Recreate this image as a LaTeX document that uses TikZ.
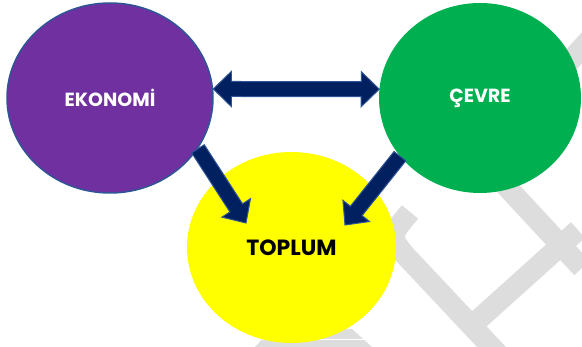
\documentclass[tikz,border=0pt]{standalone}
\usepackage{fontspec}
\newfontfamily\labelfont{Poppins}
\usetikzlibrary{shapes.geometric,calc}

\definecolor{ekopurple}{HTML}{7030A0}
\definecolor{cevgreen}{HTML}{00B050}
\definecolor{topyellow}{HTML}{FFFF00}
\definecolor{arrownavy}{HTML}{002060}
\definecolor{arrowrim}{HTML}{2F5597}
\definecolor{ghostgray}{HTML}{DDDDDD}

\tikzset{
  bubble/.style={ellipse, inner sep=0pt, font=\labelfont\bfseries},
  ghost/.style={draw=ghostgray, line width=21pt},
  fat/.style={draw=arrowrim, fill=arrownavy, line width=1pt, line join=miter},
  fatarrow/.style={fat, to path={
    ($(\tikztostart)!7.5pt!90:(\tikztotarget)$)
    -- ($($(\tikztotarget)!18pt!(\tikztostart)$)!7.5pt!90:(\tikztotarget)$)
    -- ($($(\tikztotarget)!18pt!(\tikztostart)$)!17pt!90:(\tikztotarget)$)
    -- (\tikztotarget)
    -- ($($(\tikztotarget)!18pt!(\tikztostart)$)!17pt!-90:(\tikztotarget)$)
    -- ($($(\tikztotarget)!18pt!(\tikztostart)$)!7.5pt!-90:(\tikztotarget)$)
    -- ($(\tikztostart)!7.5pt!-90:(\tikztotarget)$) -- cycle}},
  fatboth/.style={fat, to path={
    -- ($($(\tikztostart)!18pt!(\tikztotarget)$)!17.5pt!90:(\tikztotarget)$)
    -- ($($(\tikztostart)!18pt!(\tikztotarget)$)!7.5pt!90:(\tikztotarget)$)
    -- ($($(\tikztotarget)!18pt!(\tikztostart)$)!7.5pt!-90:(\tikztostart)$)
    -- ($($(\tikztotarget)!18pt!(\tikztostart)$)!17.5pt!-90:(\tikztostart)$)
    -- (\tikztotarget)
    -- ($($(\tikztotarget)!18pt!(\tikztostart)$)!17.5pt!90:(\tikztostart)$)
    -- ($($(\tikztotarget)!18pt!(\tikztostart)$)!7.5pt!90:(\tikztostart)$)
    -- ($($(\tikztostart)!18pt!(\tikztotarget)$)!7.5pt!-90:(\tikztotarget)$)
    -- ($($(\tikztostart)!18pt!(\tikztotarget)$)!17.5pt!-90:(\tikztotarget)$)
    -- cycle}}
}

\begin{document}
\begin{tikzpicture}[x=1pt,y=-1pt]
  \useasboundingbox (0,0) rectangle (582,347);
  % watermark behind everything
  \draw[ghost] (505,185) -- (582,268);
  \draw[ghost] (578,230) -- (478,320);
  \draw[ghost] (410,212) .. controls (390,236) .. (404,254) -- (515,372);
  \draw[ghost] (560,72) -- (600,28);
  \fill[ghostgray] (255,347) -- (272,329) -- (352,329) -- (372,347) -- cycle;
  \draw[white, line width=1pt] (258,340) -- (368,340);

  \node[bubble, fill=ekopurple, draw=arrowrim, line width=1.5pt,
    minimum width=206pt, minimum height=190pt, text=white,
    font=\labelfont\bfseries\fontsize{19}{20}\selectfont] (eko) at (110,98) {EKONOMİ};
  \node[bubble, fill=cevgreen, minimum width=202pt, minimum height=190pt, text=white,
    font=\labelfont\bfseries\fontsize{19}{20}\selectfont] (cev) at (480,98) {ÇEVRE};
  \node[bubble, fill=topyellow, minimum width=209pt, minimum height=191pt, text=black,
    font=\labelfont\bfseries\fontsize{22}{24}\selectfont] (top) at (291.5,247.5) {TOPLUM};

  \coordinate (tipL) at (246,223);
  \coordinate (tipR) at (345,225);

  \draw[fatboth] (eko.5) to (cev.175);
  \draw[fatarrow] (eko.-30) to (tipL);
  \draw[fatarrow] (cev.-144) to (tipR);
\end{tikzpicture}
\end{document}
